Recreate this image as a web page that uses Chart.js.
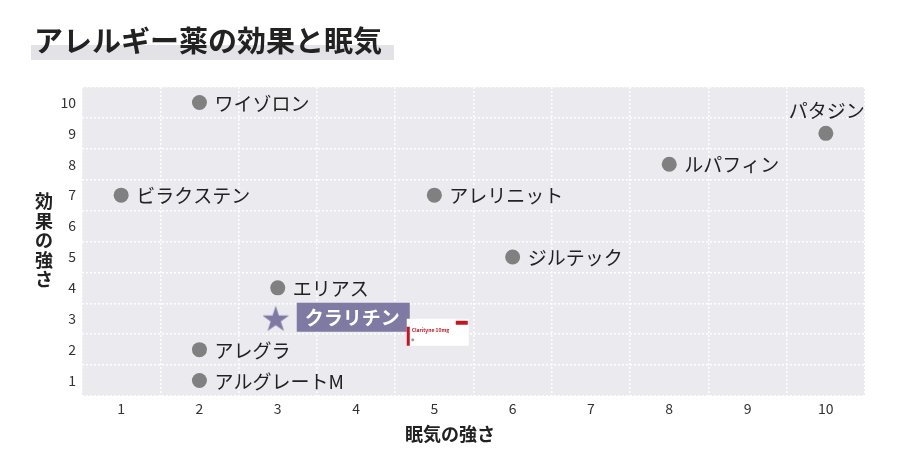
<html>
<head>
<style>
body { margin: 0; background: #fff; }
#wrap { width: 900px; height: 472px; position: relative; }
</style>
</head>
<body>
<div id="wrap">
  <canvas id="myChart"></canvas>
</div>
<script src="https://cdn.jsdelivr.net/npm/chart.js"></script>
<script>
const title = 'アレルギー薬の効果と眠気';
const xTitle = '眠気の強さ';
const yTitle = '効果の強さ';

// other drugs: x = sleepiness, y = effect
const drugs = ['ワイゾロン', 'パタジン', 'ルパフィン', 'ビラクステン', 'アレリニット', 'ジルテック', 'エリアス', 'アレグラ', 'アルグレートM'];
const sleepiness = [2, 10, 8, 1, 5, 6, 3, 2, 2];
const effect = [10, 9, 8, 7, 7, 5, 4, 2, 1];

// the highlighted one
const featured = ['クラリチン'];
const featuredSleepiness = [3];
const featuredEffect = [3];

const xTicks = [1, 2, 3, 4, 5, 6, 7, 8, 9, 10];
const yTicks = [1, 2, 3, 4, 5, 6, 7, 8, 9, 10];

const FONT = '"Noto Sans CJK JP", "Noto Sans", sans-serif';
const PURPLE = '#7e7aa3';

// filled star for the featured point
const star = document.createElement('canvas');
star.width = 30; star.height = 30;
const sc = star.getContext('2d');
sc.fillStyle = PURPLE;
sc.beginPath();
for (let i = 0; i < 10; i++) {
  const r = i % 2 ? 5.4 : 14;
  const a = -Math.PI / 2 + i * Math.PI / 5;
  sc.lineTo(13 + r * Math.cos(a), 16 + r * Math.sin(a));
}
sc.closePath();
sc.fill();

const toPoints = (xs, ys) => xs.map((x, i) => ({x: x, y: ys[i]}));

const decor = {
  id: 'decor',
  beforeDraw(chart) {
    const {ctx, chartArea: a} = chart;
    ctx.save();
    ctx.fillStyle = '#ebeaef';
    ctx.fillRect(a.left, a.top, a.right - a.left, a.bottom - a.top);

    // title with marker underline
    ctx.fillStyle = '#e3e2e7';
    ctx.fillRect(31, 45, 363, 15);
    ctx.fillStyle = '#222';
    ctx.font = 'bold 29px ' + FONT;
    ctx.textBaseline = 'middle';
    ctx.textAlign = 'left';
    ctx.fillText(title, 34, 41);

    // axis titles
    ctx.font = 'bold 18px ' + FONT;
    ctx.textAlign = 'center';
    ctx.fillText(xTitle, chart.width / 2, 434);
    const chars = [...yTitle];
    const mid = (a.top + a.bottom) / 2;
    chars.forEach((c, i) => {
      ctx.fillText(c, 44, mid - 1 + (i - (chars.length - 1) / 2) * 19.5);
    });
    ctx.restore();
  },
  afterDatasetsDraw(chart) {
    const ctx = chart.ctx;
    ctx.save();
    ctx.textBaseline = 'middle';

    // plain labels
    ctx.font = '19px ' + FONT;
    ctx.fillStyle = '#222';
    chart.getDatasetMeta(0).data.forEach((el, i) => {
      if (drugs[i] === 'パタジン') {
        ctx.textAlign = 'center';
        ctx.fillText(drugs[i], el.x + 1, el.y - 23);
      } else {
        ctx.textAlign = 'left';
        ctx.fillText(drugs[i], el.x + 15, el.y + 1);
      }
    });

    // featured label box + package picture
    chart.getDatasetMeta(1).data.forEach((el, i) => {
      ctx.fillStyle = PURPLE;
      ctx.fillRect(el.x + 19, el.y - 16, 113, 29);
      ctx.fillStyle = '#fff';
      ctx.font = 'bold 19px ' + FONT;
      ctx.textAlign = 'left';
      ctx.fillText(featured[i], el.x + 27, el.y - 1);

      const bx = el.x + 129, by = el.y;
      ctx.fillStyle = '#fff';
      ctx.fillRect(bx, by, 62, 27);
      ctx.fillStyle = '#c8141e';
      ctx.fillRect(bx, by + 8, 3, 19);
      ctx.fillRect(bx + 49, by + 2, 12, 4);
      ctx.font = 'bold 5px ' + FONT;
      ctx.fillText('Clarityne 10mg', bx + 5, by + 11);
      ctx.fillStyle = '#999';
      ctx.beginPath();
      ctx.arc(bx + 6, by + 21, 1.5, 0, Math.PI * 2);
      ctx.fill();
    });
    ctx.restore();
  }
};

const gridOpts = {
  offset: true,
  color: '#ffffff',
  lineWidth: 1.5,
  drawTicks: false
};

const config = {
  type: 'scatter',
  data: {
    datasets: [{
      label: 'drugs',
      data: toPoints(sleepiness, effect),
      backgroundColor: '#808080',
      borderWidth: 0,
      pointRadius: 7.5,
      pointHoverRadius: 7.5
    }, {
      label: 'featured',
      data: toPoints(featuredSleepiness, featuredEffect),
      pointStyle: star,
      pointRadius: 14
    }]
  },
  options: {
    responsive: true,
    maintainAspectRatio: false,
    animation: false,
    events: [],
    layout: { padding: { top: 87, right: 35, left: 0, bottom: 0 } },
    plugins: {
      legend: { display: false },
      tooltip: { enabled: false }
    },
    scales: {
      x: {
        type: 'linear',
        min: 0.5,
        max: 10.5,
        afterBuildTicks: (s) => { s.ticks = xTicks.map(v => ({value: v})); },
        afterFit: (s) => { s.height = 76; },
        ticks: { color: '#333', font: { family: FONT, size: 14 }, padding: 4 },
        grid: Object.assign({}, gridOpts),
        border: { display: false, dash: [2, 2] }
      },
      y: {
        type: 'linear',
        min: 0.5,
        max: 10.5,
        afterBuildTicks: (s) => { s.ticks = yTicks.map(v => ({value: v})); },
        afterFit: (s) => { s.width = 82; },
        ticks: { color: '#333', font: { family: FONT, size: 14 }, padding: 6 },
        grid: Object.assign({}, gridOpts),
        border: { display: false, dash: [2, 2] }
      }
    }
  },
  plugins: [decor]
};

const myChart = new Chart(document.getElementById('myChart'), config);
</script>
</body>
</html>
